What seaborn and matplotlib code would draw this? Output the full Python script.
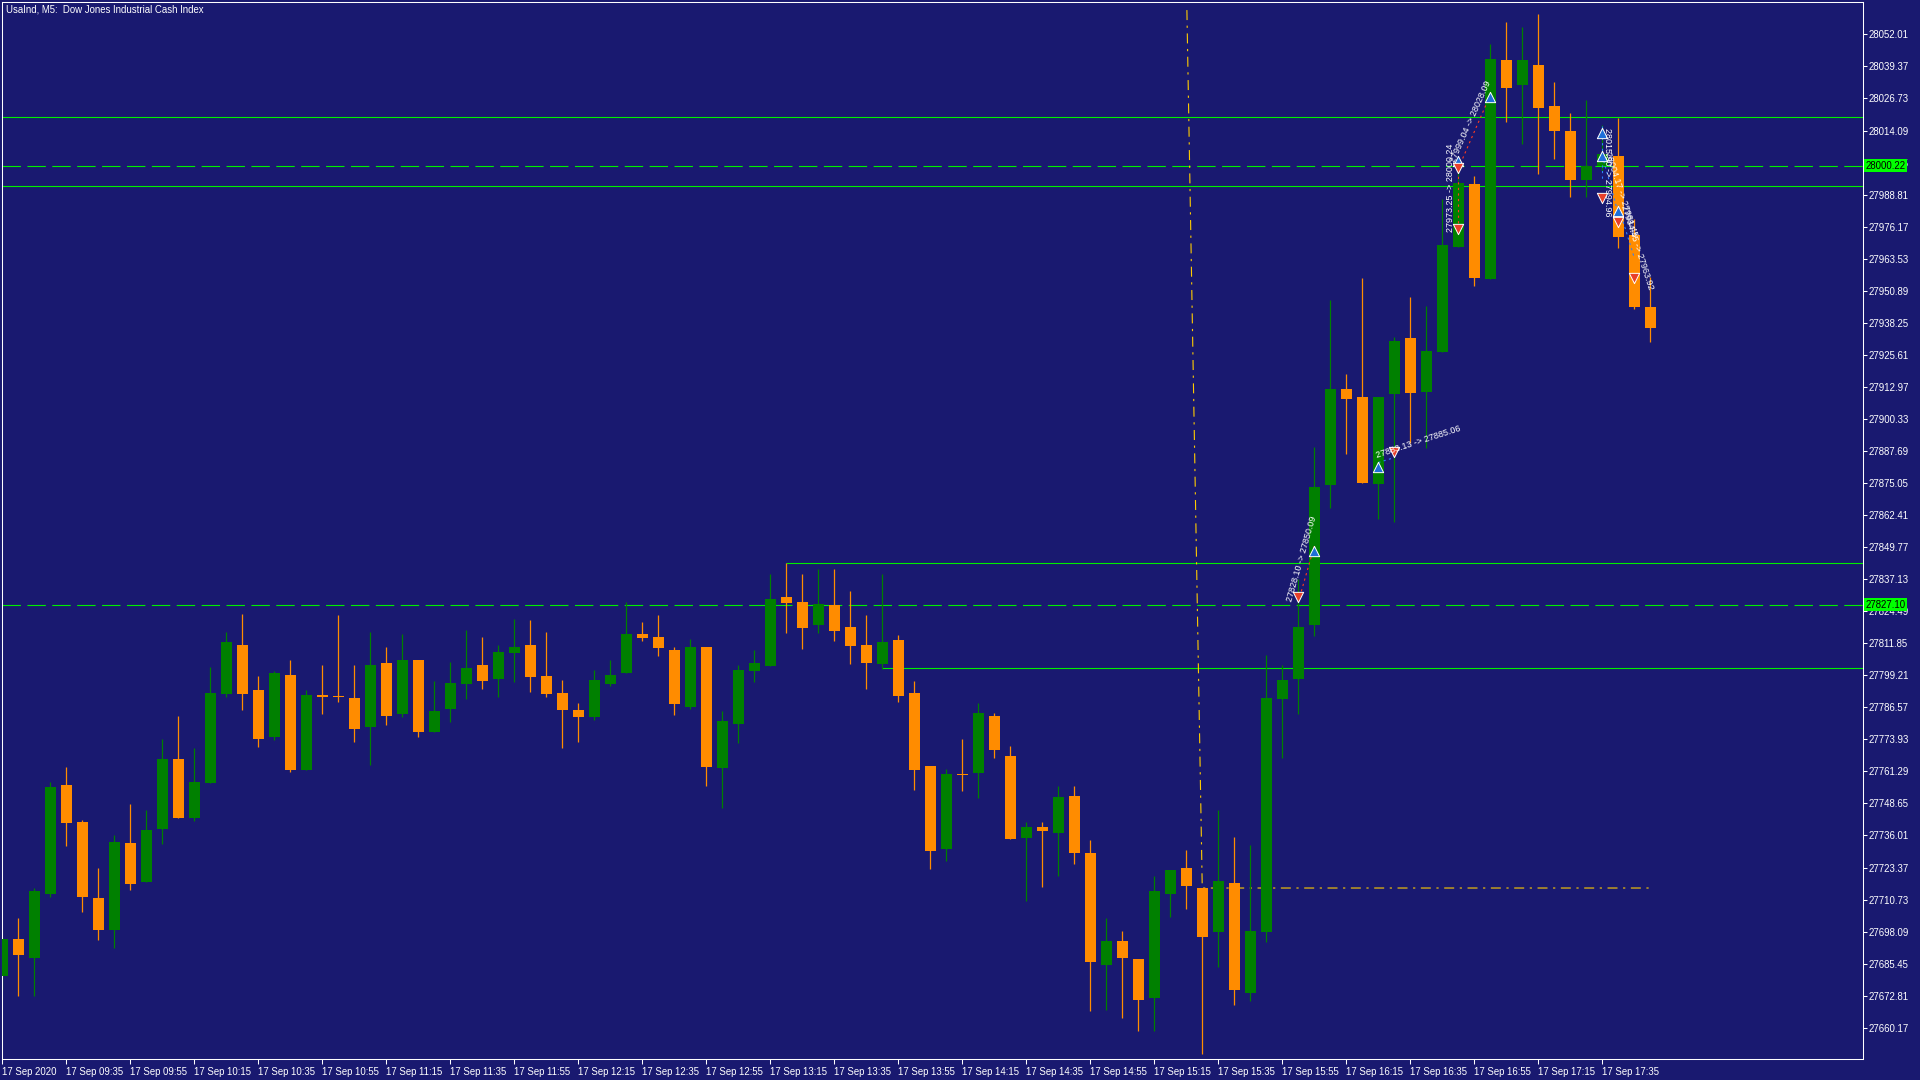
import numpy as np
import pandas as pd
import seaborn as sns
import matplotlib.pyplot as plt
from matplotlib import transforms

# M5 bars, 17 Sep 2020 09:15 .. 17:50
OPEN = [27680.70, 27695.17, 27687.80, 27713.05, 27755.92, 27741.32, 27711.34, 27698.85, 27733.04, 27717.79,
        27738.69, 27766.17, 27742.90, 27756.84, 27791.95, 27811.14, 27793.39, 27774.98, 27799.31, 27761.97,
        27791.29, 27791.03, 27790.24, 27778.93, 27804.04, 27784.06, 27805.23, 27776.96, 27786.03, 27795.89,
        27803.25, 27797.86, 27808.12, 27811.14, 27798.91, 27792.20, 27785.50, 27782.87, 27795.89, 27800.22,
        27815.48, 27814.29, 27809.17, 27786.81, 27810.35, 27762.75, 27780.11, 27801.01, 27802.99, 27830.07,
        27828.10, 27819.16, 27826.92, 27818.24, 27811.14, 27803.78, 27813.11, 27792.20, 27763.41, 27730.80,
        27760.25, 27760.78, 27783.13, 27767.35, 27735.14, 27739.35, 27737.11, 27751.57, 27729.09, 27685.04,
        27694.38, 27687.27, 27672.02, 27713.05, 27723.17, 27715.28, 27698.06, 27717.25, 27673.99, 27698.06,
        27789.84, 27797.87, 27818.88, 27874.13, 27912.17, 27908.91, 27874.85, 27910.17, 27932.27, 27911.08,
        27926.66, 27967.95, 27992.95, 27955.64, 28041.85, 28031.89, 28039.86, 28023.74, 28013.96, 27994.76,
        28000.01, 28004.00, 27972.84, 27944.41]
HIGH = [27696.00, 27703.45, 27715.15, 27757.10, 27763.02, 27742.11, 27723.17, 27736.06, 27748.42, 27746.06,
        27774.06, 27783.14, 27770.51, 27802.47, 27816.27, 27823.37, 27798.92, 27800.89, 27805.23, 27793.39,
        27803.25, 27822.98, 27803.25, 27816.27, 27810.36, 27815.48, 27805.23, 27796.94, 27804.44, 27817.06,
        27814.29, 27811.14, 27821.40, 27821.00, 27816.27, 27797.33, 27788.26, 27801.28, 27805.22, 27828.10,
        27820.21, 27822.97, 27810.35, 27813.51, 27810.35, 27785.10, 27803.25, 27809.17, 27839.28, 27843.36,
        27839.28, 27841.12, 27841.12, 27832.44, 27822.97, 27839.28, 27815.08, 27796.94, 27763.41, 27762.22,
        27774.06, 27788.26, 27784.32, 27771.30, 27741.32, 27741.32, 27755.52, 27755.52, 27734.21, 27703.45,
        27698.32, 27687.27, 27720.02, 27722.38, 27730.27, 27715.28, 27746.05, 27735.40, 27732.24, 27807.20,
        27803.25, 27837.36, 27889.34, 27947.31, 27917.96, 27956.00, 27908.91, 27932.82, 27948.39, 27944.95,
        27987.15, 28001.28, 27996.21, 28048.19, 28056.89, 28054.89, 28060.15, 28033.16, 28021.02, 28026.10,
        28016.31, 28018.85, 27979.00, 27956.36]
LOW = [27675.00, 27672.81, 27672.81, 27711.87, 27731.99, 27705.95, 27694.91, 27691.75, 27714.63, 27717.79,
       27732.77, 27742.90, 27741.85, 27756.84, 27790.76, 27785.63, 27771.04, 27773.80, 27761.18, 27761.97,
       27784.06, 27788.79, 27773.01, 27763.94, 27779.72, 27782.87, 27774.98, 27776.96, 27780.90, 27789.97,
       27793.91, 27790.76, 27796.67, 27792.73, 27790.76, 27770.64, 27773.01, 27781.68, 27795.10, 27800.22,
       27812.85, 27806.93, 27783.66, 27786.02, 27755.65, 27746.97, 27772.61, 27796.67, 27802.99, 27816.00,
       27809.69, 27816.00, 27812.85, 27803.78, 27793.91, 27801.80, 27788.79, 27754.07, 27722.91, 27726.07,
       27753.68, 27750.92, 27766.69, 27734.74, 27710.29, 27715.81, 27720.15, 27724.88, 27666.89, 27667.29,
       27664.13, 27659.00, 27659.00, 27703.98, 27707.13, 27649.93, 27684.25, 27669.26, 27670.84, 27694.11,
       27766.69, 27783.94, 27814.72, 27865.07, 27886.62, 27875.04, 27860.72, 27859.64, 27890.79, 27888.98,
       27926.66, 27967.95, 27952.92, 27955.64, 28017.58, 28008.89, 27996.75, 28002.73, 27987.70, 27987.70,
       27998.00, 27967.77, 27943.86, 27930.64]
CLOSE = [27695.17, 27688.99, 27714.10, 27755.13, 27741.06, 27711.87, 27698.85, 27733.43, 27716.99, 27738.17,
         27766.17, 27742.90, 27757.10, 27792.21, 27812.33, 27791.95, 27774.19, 27800.10, 27761.97, 27791.42,
         27790.76, 27790.76, 27778.14, 27803.25, 27783.27, 27805.23, 27776.96, 27785.11, 27796.15, 27802.07,
         27797.07, 27808.38, 27810.35, 27798.65, 27791.94, 27785.63, 27782.87, 27797.33, 27799.30, 27815.48,
         27814.03, 27810.09, 27787.99, 27810.35, 27763.14, 27781.16, 27801.28, 27804.04, 27829.28, 27827.71,
         27817.98, 27827.31, 27816.79, 27810.88, 27804.17, 27812.32, 27791.15, 27761.96, 27730.01, 27760.25,
         27759.86, 27784.32, 27769.85, 27734.74, 27739.35, 27737.90, 27751.18, 27729.22, 27686.22, 27694.38,
         27687.80, 27671.24, 27714.10, 27722.38, 27716.20, 27696.08, 27718.04, 27675.18, 27698.32, 27790.23,
         27797.33, 27818.34, 27873.40, 27912.17, 27908.00, 27875.04, 27908.91, 27931.00, 27910.72, 27927.20,
         27968.86, 27993.50, 27956.00, 28042.40, 28031.03, 28041.85, 28023.02, 28013.78, 27994.76, 28000.01,
         28004.90, 27971.94, 27944.59, 27936.08]

TIME_LABELS = ['17 Sep 2020', '17 Sep 09:35', '17 Sep 09:55', '17 Sep 10:15', '17 Sep 10:35', '17 Sep 10:55',
               '17 Sep 11:15', '17 Sep 11:35', '17 Sep 11:55', '17 Sep 12:15', '17 Sep 12:35', '17 Sep 12:55',
               '17 Sep 13:15', '17 Sep 13:35', '17 Sep 13:55', '17 Sep 14:15', '17 Sep 14:35', '17 Sep 14:55',
               '17 Sep 15:15', '17 Sep 15:35', '17 Sep 15:55', '17 Sep 16:15', '17 Sep 16:35', '17 Sep 16:55',
               '17 Sep 17:15', '17 Sep 17:35']
PRICE_TICKS = [27660.17, 27672.81, 27685.45, 27698.09, 27710.73, 27723.37, 27736.01, 27748.65, 27761.29,
               27773.93, 27786.57, 27799.21, 27811.85, 27824.49, 27837.13, 27849.77, 27862.41, 27875.05,
               27887.69, 27900.33, 27912.97, 27925.61, 27938.25, 27950.89, 27963.53, 27976.17, 27988.81,
               28001.45, 28014.09, 28026.73, 28039.37, 28052.01]

# horizontal levels
FULL_LEVELS = [28019.27, 27992.09]
DASHED_LEVELS = [28000.22, 27827.10]
RAY_START = [49, 55]
RAY_LEVELS = [27843.36, 27802.00]

# yellow dash-dot trend tool
TREND_X = [74.04, 75, 103]
TREND_P = [28061.60, 27715.28, 27715.28]

# trade arrows
BUY_X = [82, 86, 91, 93, 100, 100, 101]
BUY_P = [27848.2, 27881.4, 28002.2, 28027.2, 28013.0, 28004.0, 27982.3]
SELL_X = [81, 87, 91, 91, 100, 101, 102]
SELL_P = [27830.1, 27887.2, 27975.4, 27999.5, 27987.3, 27978.1, 27955.8]

# trade connections: (x0, p0, x1, p1, label, colour key)
TRADES = [(81, 27828.10, 82, 27850.09, '27828.10 -> 27850.09', 'r'),
          (86, 27883.13, 87, 27885.06, '27883.13 -> 27885.06', 'b'),
          (91, 27973.25, 91, 28000.24, '27973.25 -> 28000.24', 'r'),
          (91, 27999.04, 93, 28028.09, '27999.04 -> 28028.09', 'r'),
          (100, 28015.90, 100, 27994.96, '28015.90 -> 27994.96', 'b'),
          (100, 28004.17, 101, 27981.45, '28004.17 -> 27981.45', 'b'),
          (101, 27984.45, 102, 27963.92, '27984.45 -> 27963.92', 'b')]
LABEL_POS = [(81.2, 27845.0, 74), (88.5, 27891.3, 18), (90.5, 27991.5, 90), (91.8, 28017.5, 66),
             (100.35, 27997.5, -90), (101.15, 27989.0, -72), (102.15, 27968.0, -72)]

BG = '#191970'
BULL = '#008000'
BEAR = '#ff8c00'
LEVEL = '#00ee00'

sns.set_theme(style='dark', rc={'axes.facecolor': BG, 'figure.facecolor': BG, 'savefig.facecolor': BG,
                                'axes.edgecolor': 'white', 'text.color': 'white',
                                'xtick.color': 'white', 'ytick.color': 'white', 'axes.grid': False})
plt.rcParams['font.family'] = ['Liberation Sans', 'DejaVu Sans']

df = pd.DataFrame({'open': OPEN, 'high': HIGH, 'low': LOW, 'close': CLOSE})
df['bar'] = np.arange(len(df))
df['up'] = df['close'] >= df['open']
df['col'] = np.where(df['up'], BULL, BEAR)
df['bottom'] = df[['open', 'close']].min(axis=1)
df['height'] = (df['close'] - df['open']).abs().clip(lower=0.45)

fig = plt.figure(figsize=(19.2, 10.8), dpi=100)
ax = fig.add_axes([0.0012, 0.01944, 0.96896, 0.97843])

XMAX = 116.28
YMIN, YMAX = 27647.83, 28064.67

# levels
for p in FULL_LEVELS:
    ax.axhline(p, color=LEVEL, lw=0.8, zorder=1)
for p in DASHED_LEVELS:
    ax.axhline(p, color=LEVEL, lw=0.8, dashes=(16.6, 5.8), zorder=1)
for x0, p in zip(RAY_START, RAY_LEVELS):
    ax.hlines(p, x0, XMAX, color=LEVEL, lw=0.8, zorder=1)

ax.plot(TREND_X, TREND_P, color='#ffcc00', lw=0.8, dashes=(9, 5, 2, 5), zorder=1)

# candles
ax.vlines(df['bar'], df['low'], df['high'], colors=df['col'], linewidth=0.9, zorder=2)
ax.bar(df['bar'], df['height'], bottom=df['bottom'], width=0.6875, color=df['col'], linewidth=0, zorder=3)

# trades
for (x0, p0, x1, p1, lab, c), (tx, tp, rot) in zip(TRADES, LABEL_POS):
    lc = '#ff3b1f' if c == 'r' else '#2f7fff'
    ax.plot([x0, x1], [p0, p1], color=lc, lw=0.8, dashes=(2, 3), zorder=4)
    ax.text(tx, tp, lab, rotation=rot, rotation_mode='anchor', ha='center', va='center',
            fontsize=6.5, color='white', zorder=7)

ax.scatter(BUY_X, BUY_P, marker='^', s=55, facecolors='#1e6fd9', edgecolors='white',
           linewidths=0.7, zorder=6)
ax.scatter(SELL_X, SELL_P, marker='v', s=55, facecolors='#e8402a', edgecolors='white',
           linewidths=0.7, zorder=6)

ax.set_xlim(0, XMAX)
ax.set_ylim(YMIN, YMAX)

ax.yaxis.tick_right()
ax.set_yticks(PRICE_TICKS)
ax.set_yticklabels(['%.2f' % t for t in PRICE_TICKS])
ax.tick_params(axis='y', right=True, left=False, direction='out', length=3, width=0.75, pad=1,
               labelsize=6.9, colors='white')
ax.set_xticks(np.arange(0, len(TIME_LABELS) * 4, 4))
ax.set_xticklabels(TIME_LABELS, ha='left')
ax.tick_params(axis='x', bottom=True, direction='out', length=3.5, width=0.75, pad=2.5,
               labelsize=6.9, colors='white')
ax.set_xlabel('')
ax.set_ylabel('')
for s in ax.spines.values():
    s.set_visible(True)
    s.set_color('white')
    s.set_linewidth(0.75)

# level price boxes on the price scale
blend = transforms.blended_transform_factory(ax.transAxes, ax.transData)
for p in DASHED_LEVELS:
    ax.text(1.0015, p, '%.2f' % p, transform=blend, ha='left', va='center', color='black',
            fontsize=6.9, zorder=10, clip_on=False,
            bbox=dict(boxstyle='square,pad=0.15', fc='#00ff00', ec='none'))

fig.text(0.0033, 0.9955, 'UsaInd, M5:  Dow Jones Industrial Cash Index', ha='left', va='top',
         fontsize=6.9, color='white')

fig.savefig('out.png', dpi=100)
